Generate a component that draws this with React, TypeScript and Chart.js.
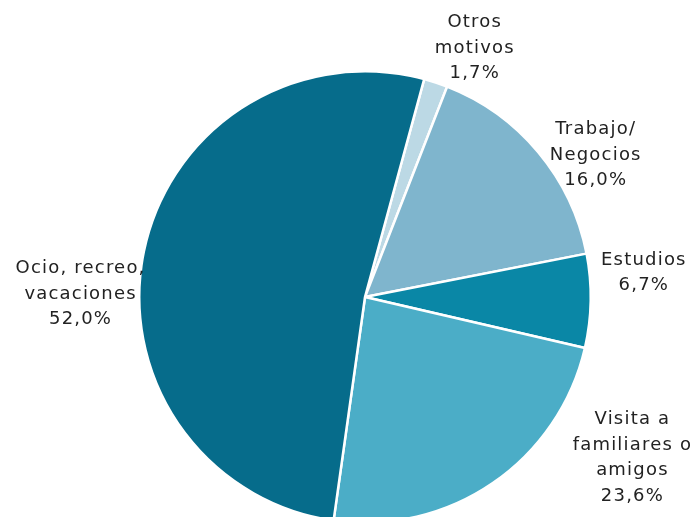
import React, { useEffect, useRef } from "react";
import { Chart, registerables } from "chart.js";

Chart.register(...registerables);

const categories = ["Otros motivos", "Trabajo/ Negocios", "Estudios", "Visita a familiares o amigos", "Ocio, recreo, vacaciones"];
const labelLines = [
  ["Otros", "motivos"],
  ["Trabajo/", "Negocios"],
  ["Estudios"],
  ["Visita a", "familiares o", "amigos"],
  ["Ocio, recreo,", "vacaciones"],
];
const values = [1.7, 16.0, 6.7, 23.6, 52.0];
const colors = ["#BCD9E5", "#7FB5CD", "#0A87A6", "#4BADC7", "#066C8B"];

// label placement: angle (deg clockwise from top) and distance as fraction of radius
const labelLayout = [
  { angle: 23.8, dist: 1.205 },
  { angle: 58.4, dist: 1.2 },
  { angle: 85, dist: 1.24 },
  { angle: 121, dist: 1.382 },
  { angle: 270.6, dist: 1.26 },
];

const fmt = (v: number) => v.toFixed(1).replace(".", ",") + "%";

const labelPlugin = {
  id: "outLabels",
  afterDatasetsDraw(chart: any) {
    const meta = chart.getDatasetMeta(0);
    const ctx = chart.ctx;
    ctx.save();
    ctx.font = "18px 'DejaVu Sans', Verdana, sans-serif";
    try { (ctx as any).letterSpacing = "1.2px"; } catch (e) {}
    ctx.fillStyle = "#222222";
    ctx.textAlign = "center";
    ctx.textBaseline = "middle";
    const lh = 25.5;
    meta.data.forEach((arc: any, i: number) => {
      const { x, y, outerRadius } = arc.getProps(["x", "y", "outerRadius"], true);
      const lay = labelLayout[i];
      const a = (lay.angle * Math.PI) / 180;
      const cx = x + Math.sin(a) * outerRadius * lay.dist;
      const cy = y - Math.cos(a) * outerRadius * lay.dist;
      const lines = [...labelLines[i], fmt(values[i])];
      const top = cy - ((lines.length - 1) * lh) / 2;
      lines.forEach((t, k) => ctx.fillText(t, cx, top + k * lh));
    });
    ctx.restore();
  },
};

export default function App() {
  const ref = useRef<HTMLCanvasElement | null>(null);
  useEffect(() => {
    if (!ref.current) return;
    const chart = new Chart(ref.current, {
      type: "pie",
      data: {
        labels: categories,
        datasets: [
          {
            data: values,
            backgroundColor: colors,
            borderColor: "#ffffff",
            borderWidth: 2.5,
          },
        ],
      },
      options: {
        animation: false,
        responsive: false,
        rotation: 15.2,
        layout: { padding: { left: 34, top: 70, bottom: 16, right: 0 } },
        plugins: { legend: { display: false }, tooltip: { enabled: false } },
      },
      plugins: [labelPlugin],
    });
    return () => chart.destroy();
  }, []);
  return (
    <div style={{ position: "fixed", left: 0, top: 0, width: 696, height: 517, overflow: "hidden", background: "#fff" }}>
      <canvas ref={ref} width={696} height={540} style={{ display: "block" }} />
    </div>
  );
}
